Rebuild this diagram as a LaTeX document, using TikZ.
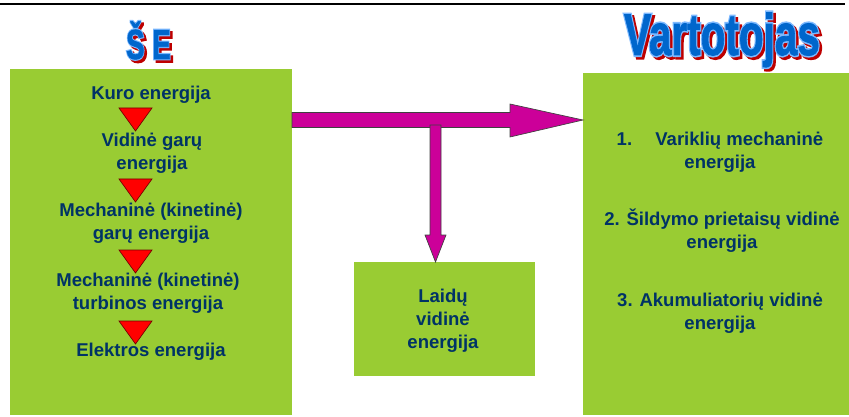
\documentclass[tikz,border=0pt]{standalone}
\usepackage{fontspec}
\setmainfont{Liberation Sans}
\newfontfamily\headhalo[FakeBold=7]{Liberation Sans Bold}
\newfontfamily\headcore[FakeBold=1.5]{Liberation Sans Bold}
\usepackage{graphicx}
\usetikzlibrary{calc}
\definecolor{boxgreen}{RGB}{153,204,51}
\definecolor{textblue}{RGB}{0,51,102}
\definecolor{arrowpink}{RGB}{204,0,153}
\definecolor{titleblue}{RGB}{0,102,204}
\definecolor{titlelight}{RGB}{125,185,255}
\definecolor{titlered}{RGB}{190,0,0}

\tikzset{
  panel/.style={fill=boxgreen, draw=none, inner sep=0pt, outer sep=0pt, anchor=north west},
  item/.style={text=textblue, font=\bfseries\fontsize{13.9}{17.25}\selectfont, align=center, inner sep=0pt},
  flowtri/.style={fill=red, draw=black!55!red, line width=0.5pt},
  fatarrow/.style={fill=arrowpink, draw=black!75, line width=0.5pt},
  headline/.style={inner sep=0pt, anchor=base},
}

% condensed heading letters
\newcommand{\headfont}[4]{\scalebox{#2}[1]{\fontsize{#1}{#1}\selectfont#4#3}}
% name, position, size, xscale, text
\newcommand{\headtitle}[5]{%
  \node[headline, text=titlered] at ([shift={(2.5,2.5)}]#2) {\headfont{#3}{#4}{#5}{\headhalo}};
  \node[headline, text=titlelight] at (#2) {\headfont{#3}{#4}{#5}{\headhalo}};
  \node[headline, text=titleblue] (#1) at (#2) {\headfont{#3}{#4}{#5}{\headcore}};
}

\begin{document}
\begin{tikzpicture}[x=0.75pt,y=-0.75pt]
  \useasboundingbox (0,0) rectangle (849,417);
  \draw[line width=1.5pt] (0,4.3) -- (845,4.3);

  % headings
  \headtitle{titleSE}{148.5,59}{31.5pt}{0.66}{Š E}
  \headtitle{titleVart}{722,55}{44pt}{0.69}{Vartotojas}

  % panels
  \node[panel, minimum width=211.5pt, minimum height=259.5pt] (source) at (10,69) {};
  \node[panel, minimum width=199.5pt, minimum height=256.5pt] (consumer) at (583,73) {};
  \node[panel, minimum width=135.75pt, minimum height=85.5pt] (wires) at (354,262) {};

  % power plant chain
  \node[item] (kuro) at (151,95.2) {Kuro energija};
  \node[item] (garai) at (152,153.7) {Vidinė garų\\energija};
  \node[item] (garmech) at (151,223.7) {Mechaninė (kinetinė)\\garų energija};
  \node[item] (turbina) at (148,293.7) {Mechaninė (kinetinė)\\turbinos energija};
  \node[item] (elektra) at (151,352.2) {Elektros energija};
  \foreach \ty in {108,179,250,321}
    \draw[flowtri] (119,\ty) -- (152,\ty) -- (135.5,\ty+23) -- cycle;

  \node[item] (laidai) at (443,320.7) {Laidų\\vidinė\\energija};

  \node[item] (var1) at (720,152.2) {1.\hspace{1.25em}Variklių mechaninė\\energija};
  \node[item] (var2) at (722,230.7) {2. Šildymo prietaisų vidinė\\energija};
  \node[item] (var3) at (720,313.5) {3. Akumuliatorių vidinė\\energija};

  % transfer arrows
  \coordinate (outL) at (source.north east |- 0,120);
  \coordinate (inR) at (consumer.north west |- 0,120);
  \coordinate (branch) at (435.5,125);
  \coordinate (inM) at (wires.north west -| 435.5,0);
  \draw[fatarrow] ($(outL)+(0,-7.5)$) -- ($(inR)+(-73,-7.5)$) -- ($(inR)+(-73,-16)$)
    -- (inR) -- ($(inR)+(-73,17)$) -- ($(inR)+(-73,7.5)$) -- ($(outL)+(0,7.5)$) -- cycle;
  \draw[fatarrow] ($(branch)+(-5.5,0)$) -- ($(branch)+(5.5,0)$) -- ($(inM)+(5.5,-27)$)
    -- ($(inM)+(10.5,-27)$) -- (inM) -- ($(inM)+(-10.5,-27)$) -- ($(inM)+(-5.5,-27)$) -- cycle;
\end{tikzpicture}
\end{document}
